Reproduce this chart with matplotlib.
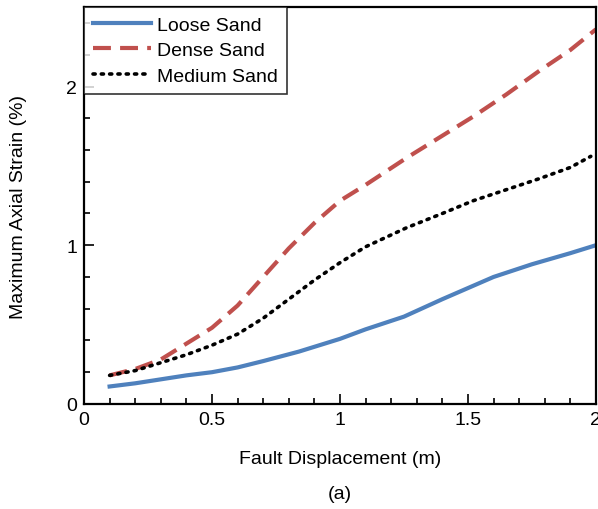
import matplotlib.pyplot as plt
from matplotlib.ticker import MultipleLocator

plt.rcParams['font.family'] = ['Liberation Sans', 'DejaVu Sans']

# values
loose_x = [0.1, 0.2, 0.3, 0.4, 0.5, 0.6, 0.7, 0.84, 1.0, 1.1, 1.25, 1.4, 1.5, 1.6, 1.75, 1.9, 2.0]
loose_y = [0.11, 0.13, 0.155, 0.18, 0.20, 0.23, 0.27, 0.33, 0.41, 0.47, 0.55, 0.66, 0.73, 0.80, 0.88, 0.95, 1.0]

dense_x = [0.1, 0.2, 0.3, 0.4, 0.5, 0.6, 0.7, 0.8, 0.9, 1.0, 1.1, 1.26, 1.4, 1.52, 1.65, 1.78, 1.9, 2.0]
dense_y = [0.18, 0.22, 0.28, 0.38, 0.48, 0.62, 0.80, 0.98, 1.14, 1.28, 1.38, 1.55, 1.69, 1.81, 1.95, 2.10, 2.23, 2.36]

medium_x = [0.1, 0.2, 0.3, 0.4, 0.5, 0.6, 0.7, 0.8, 0.9, 1.0, 1.1, 1.26, 1.4, 1.52, 1.65, 1.78, 1.9, 1.98]
medium_y = [0.18, 0.21, 0.26, 0.31, 0.37, 0.44, 0.54, 0.66, 0.78, 0.89, 0.99, 1.11, 1.20, 1.28, 1.35, 1.42, 1.49, 1.56]

fig = plt.figure(figsize=(5.98, 5.10), dpi=100)
ax = fig.add_axes([0.1405, 0.206, 0.856, 0.778])

ax.plot(loose_x, loose_y, color='#4f81bd', lw=3, label='Loose Sand')
ax.plot(dense_x, dense_y, color='#c0504d', lw=3, dashes=(4.3, 2.2), label='Dense Sand')
ax.plot(medium_x, medium_y, color='black', lw=2.6, dashes=(0.6, 1.7), dash_capstyle='round',
        label='Medium Sand')

ax.set_xlim(0, 2)
ax.set_ylim(0, 2.5)
ax.xaxis.set_minor_locator(MultipleLocator(0.1))
ax.yaxis.set_minor_locator(MultipleLocator(0.2))
ax.set_xticks([0, 0.5, 1, 1.5, 2])
ax.set_xticklabels(['0', '0.5', '1', '1.5', '2'])
ax.set_yticks([0, 1, 2])
ax.set_yticklabels(['0', '1', '2'])
ax.tick_params(which='both', direction='in', labelsize=14, width=1.2, pad=5)
ax.tick_params(which='major', length=7)
ax.tick_params(which='minor', length=4)
for s in ax.spines.values():
    s.set_linewidth(1.6)

ax.set_xlabel('Fault Displacement (m)', fontsize=14, labelpad=16)
ax.set_ylabel('Maximum Axial Strain (%)', fontsize=14, labelpad=28)

leg = ax.legend(loc='upper left', fontsize=14, frameon=True, fancybox=False, borderaxespad=0,
                handlelength=3.0, handletextpad=0.3, labelspacing=0.42, borderpad=0.45)
leg.get_frame().set_edgecolor('black')
leg.get_frame().set_linewidth(1.2)

fig.text(0.569, 0.03, '(a)', fontsize=14, ha='center', va='center')

fig.savefig('out.png', dpi=100)
